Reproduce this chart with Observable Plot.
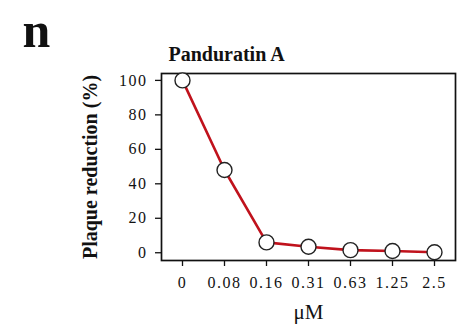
<!DOCTYPE html>
<html><head><meta charset="utf-8">
<script src="https://cdn.jsdelivr.net/npm/d3@7"></script>
<script src="https://cdn.jsdelivr.net/npm/@observablehq/plot@0.6"></script>
<style>
body{margin:0;background:#fff;}
g[aria-label="x-axis tick label"] text{letter-spacing:1.5px;}
g[aria-label="y-axis tick label"] text{letter-spacing:1.5px;}
</style>
</head><body><div id="chart"></div>
<script>
const doses = ["0","0.08","0.16","0.31","0.63","1.25","2.5"];
const reduction = [100,48,6,3.5,1.5,1,0.3];
const yTicks = [0,20,40,60,80,100];
const title = "Panduratin A";
const panel = "n";
const xLabel = "μM";
const yLabel = "Plaque reduction (%)";

const data = doses.map((d,i)=>({dose:d, value:reduction[i]}));
const serif = "Liberation Serif, Times New Roman, serif";
const chart = Plot.plot({
  width:466, height:331, marginLeft:161, marginRight:11, marginTop:73, marginBottom:71,
  style:{fontFamily:serif, background:"#fff", color:"#111"},
  x:{type:"point", domain:doses, padding:0.5},
  y:{domain:[-4.5,104]},
  marks:[
    Plot.axisX({tickSize:6, tickPadding:10, fontSize:16, label:null, strokeWidth:1.3}),
    Plot.axisY({ticks:yTicks, tickSize:6, tickPadding:8, fontSize:16, label:null, strokeWidth:1.3}),
    Plot.frame({stroke:"#111", strokeWidth:1.7}),
    Plot.line(data,{x:"dose", y:"value", stroke:"#c0121c", strokeWidth:2.6}),
    Plot.dot(data,{x:"dose", y:"value", r:7.5, fill:"white", stroke:"#222", strokeWidth:1.4}),
    Plot.text([title],{text:d=>d, frameAnchor:"top-left", textAnchor:"start", lineAnchor:"middle", dx:7, dy:-19, fontSize:20, fontWeight:"bold", fontFamily:serif}),
    Plot.text([panel],{text:d=>d, frameAnchor:"top-left", textAnchor:"start", lineAnchor:"middle", dx:-139, dy:-43, fontSize:50, fontWeight:"bold", fontFamily:serif}),
    Plot.text([xLabel],{text:d=>d, frameAnchor:"bottom", lineAnchor:"middle", dy:52, fontSize:21, fontFamily:serif}),
    Plot.text([yLabel],{text:d=>d, frameAnchor:"left", textAnchor:"middle", lineAnchor:"middle", rotate:-90, dx:-71, fontSize:20, fontWeight:"bold", fontFamily:serif})
  ]
});
document.getElementById("chart").appendChild(chart);
</script>
</body></html>
